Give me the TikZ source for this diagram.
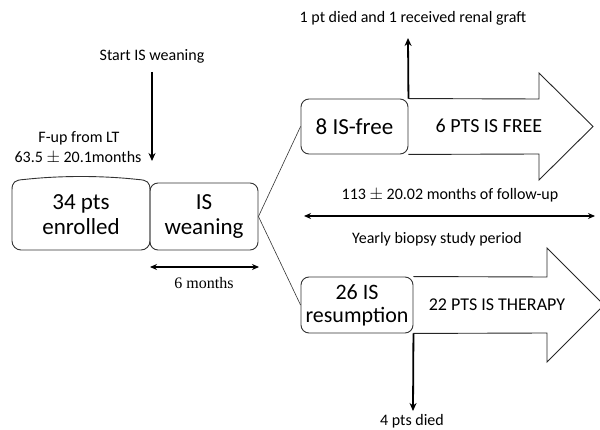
\documentclass[tikz,border=0pt]{standalone}
\usepackage{fontspec}
\setmainfont{Carlito}
\newfontfamily\timesfont{Liberation Serif}
\usetikzlibrary{arrows.meta}

\begin{document}
\begin{tikzpicture}[x=1pt, y=-1pt,
box/.style={rectangle, draw=black!80, line width=0.9pt, rounded corners=8pt, inner sep=0pt, align=center, font=\fontsize{23}{25}\selectfont},
boxline/.style={draw=black!80, line width=0.9pt},
bigarrow/.style={draw=black!85, line width=0.9pt},
label/.style={inner sep=0pt, font=\fontsize{16}{19}\selectfont},
big label/.style={inner sep=0pt, font=\fontsize{19}{22}\selectfont},
arr/.style={line width=1.8pt, -{Stealth[length=8pt, width=7pt]}},
darr/.style={line width=1.6pt, {Stealth[length=7pt, width=6pt]}-{Stealth[length=7pt, width=6pt]}},
split/.style={draw=black!80, line width=0.6pt},
]
\useasboundingbox (0,0) rectangle (600,430);

\node[box, draw=none, minimum width=138pt, minimum height=70pt] (enrol) at (81,215) {34 pts\\enrolled};
\draw[boxline] (12,190) .. controls (12,182) and (15,180) .. (24,179.5)
  .. controls (60,175.5) and (102,175.5) .. (138,179.5)
  .. controls (147,180) and (150,182) .. (150,190)
  [rounded corners=9pt] -- (150,250) -- (12,250) [sharp corners] -- cycle;
\node[box, minimum width=108pt, minimum height=67pt] (wean) at (204,216.5) {IS\\weaning};

\node[label] (start) at (152,56) {Start IS weaning};
\coordinate (wtip) at (152,161);
\draw[arr] (152,72) -- (wtip);
\node[label] (fup) at (79,138) {F-up from LT};
\node[label] (fupval) at (78,157.5) {63.5 $\pm$ 20.1months};

\coordinate (ml) at (150,267);
\coordinate (mr) at (259,267);
\draw[darr] (ml) -- (mr);
\node[label, font=\timesfont\fontsize{16}{19}\selectfont] (sixm) at (204,283) {6 months};

\node[box, fill=white, minimum width=107pt, minimum height=55pt] (free) at (354.5,126.5) {8 IS-free};
\draw[bigarrow] (free.north east) -- (539,99) -- (539,73) -- (593,126.5) -- (539,180) -- (539,154) -- (free.south east);
\node[big label, font=\fontsize{20}{22}\selectfont] (freetxt) at (489,126) {6 PTS IS FREE};

\node[box, fill=white, minimum width=112pt, minimum height=56pt, font=\fontsize{22}{23}\selectfont] (resume) at (357,305) {26 IS\\resumption};
\draw[bigarrow] (resume.north east) -- (547,277) -- (547,248) -- (604,305) -- (547,362) -- (547,333) -- (resume.south east);
\node[big label, font=\fontsize{18}{22}\selectfont] (thertxt) at (497,305) {22 PTS IS THERAPY};

\draw[split] (wean.east) -- (free.west);
\draw[split] (wean.east) -- (resume.west);

\node[label] (lost) at (413,18) {1 pt died and 1 received renal graft};
\coordinate (losttip) at (408,38);
\draw[arr] (free.north east) -- (losttip);

\node[label] (fu) at (450,195) {113 $\pm$ 20.02 months of follow-up};
\coordinate (fl) at (304,216);
\coordinate (fr) at (595,216);
\draw[darr] (fl) -- (fr);
\node[label] (yb) at (437,239) {Yearly biopsy study period};

\node[label] (died) at (412,421) {4 pts died};
\coordinate (diedtip) at (413,411);
\draw[arr] (resume.south east) -- (diedtip);
\end{tikzpicture}
\end{document}
